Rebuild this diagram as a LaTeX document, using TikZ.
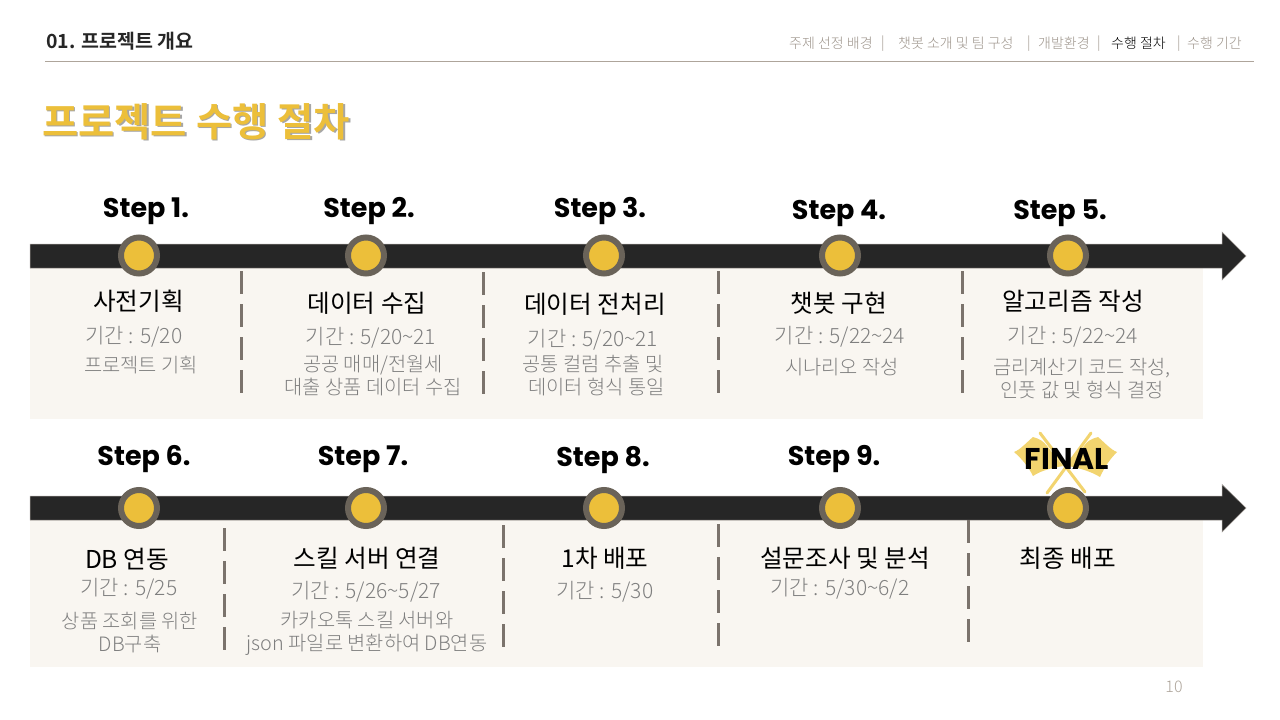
\documentclass[tikz,border=0pt]{standalone}
\usepackage{fontspec}
\setmainfont{Noto Sans CJK KR}
\newfontfamily\kr{Noto Sans CJK KR}
\newfontfamily\krl{Noto Sans CJK KR Light}
\newfontfamily\krh{Noto Sans CJK KR Bold}[AutoFakeBold=1.6]
\newfontfamily\krt{Noto Sans CJK KR Bold}[AutoFakeBold=2.6]
\newfontfamily\stepf{Poppins}
\definecolor{gold}{HTML}{ECBF3A}
\definecolor{bar}{HTML}{262626}
\definecolor{panel}{HTML}{F9F6F1}
\definecolor{ringc}{HTML}{6A6359}
\definecolor{dashc}{HTML}{7B736C}
\definecolor{tan}{HTML}{AEA59B}
\definecolor{body}{HTML}{7F7F7F}
\definecolor{flagc}{HTML}{F2D46F}
\newcommand{\tl}{\char`\~}
\tikzset{
 x=1pt,y=-1pt,
 stepl/.style={font=\stepf\bfseries\fontsize{27}{30}\selectfont,text=black,inner sep=0pt},
 head/.style={font=\kr\fontsize{24.6}{27}\selectfont,text=black,inner sep=0pt},
 per/.style={font=\krl\fontsize{21}{24}\selectfont,text=body,inner sep=0pt},
 desc/.style={font=\krl\fontsize{19.8}{23}\selectfont,text=body,inner sep=0pt,align=center},
 nav/.style={font=\krl\fontsize{14}{14}\selectfont,text=tan!90!black,inner sep=0pt},
 sep/.style={draw=dashc,line width=3pt,dash pattern=on 23.3pt off 9.7pt},
 ring/.style={circle,draw=ringc,fill=gold,line width=6pt,minimum size=36pt,inner sep=0pt},
 arrowbar/.style={fill=bar,draw=dashc!70,line width=.5pt},
 flag/.style={fill=flagc,draw=none},
 pole/.style={draw=flagc,line width=3pt,line cap=round},
}
\begin{document}
\begin{tikzpicture}
\useasboundingbox (0,0) rectangle (1280,720);
\fill[white] (0,0) rectangle (1280,720);
% header
\node[anchor=west,inner sep=0pt,font=\krh\fontsize{19.5}{22}\selectfont,text=bar] (sec) at (46,41) {01. 프로젝트 개요};
\coordinate (ruleL) at (45,61.5); \coordinate (ruleR) at (1254,61.5);
\draw[draw=tan,line width=1pt] (ruleL) -- (ruleR);
\node[nav,anchor=west] (n1) at (789,43.5) {주제 선정 배경};
\node[nav,anchor=west] (n1b) at (881,43.5) {|};
\node[nav,anchor=west] (n2) at (898,43.5) {챗봇 소개 및 팀 구성};
\node[nav,anchor=west] (n2b) at (1027,43.5) {|};
\node[nav,anchor=west] (n3) at (1038,43.5) {개발환경};
\node[nav,anchor=west] (n3b) at (1097,43.5) {|};
\node[nav,anchor=west,text=black] (n4) at (1111,43.5) {수행 절차};
\node[nav,anchor=west] (n5) at (1177,43.5) {|};
\node[nav,anchor=west] (n6) at (1187,43.5) {수행 기간};
% title
\node[anchor=west,inner sep=0pt,font=\krt\fontsize{39.4}{42}\selectfont,text=gray!70] (titles) at (43.5,123) {프로젝트 수행 절차};
\node[anchor=west,inner sep=0pt,font=\krt\fontsize{39.4}{42}\selectfont,text=gold] (title) at (42,121.5) {프로젝트 수행 절차};
% panels
\fill[panel] (30,268) rectangle (1203,419);
\fill[panel] (30,520) rectangle (1203,667);
% arrows
\draw[arrowbar] (30,244) -- (1222,244) -- (1222,232) -- (1246,256) -- (1222,280) -- (1222,268) -- (30,268) -- cycle;
\draw[arrowbar] (30,496) -- (1222,496) -- (1222,484.5) -- (1246,508) -- (1222,532) -- (1222,520) -- (30,520) -- cycle;
% separators
\foreach \x/\a/\b in {241/271/394,483.5/272/395,718/271/394,962/271/394,224/528/651,503/525/648,718/524/647,968/520/643}
  \draw[sep] (\x,\a) -- (\x,\b);
% markers
\foreach \n/\x in {a/139,b/366,c/604,d/840,e/1068} \node[ring] (r1\n) at (\x,255.5) {};
% flags
\fill[flag] (1014,452) .. controls (1020,450) and (1027,442) .. (1033,437) .. controls (1040,439) and (1043,441) .. (1047,446) -- (1063,466) .. controls (1052,468) and (1042,470) .. (1033,476) .. controls (1028,466) and (1021,458) .. (1014,452) -- cycle;
\fill[flag] (1117,452) .. controls (1111,450) and (1104,442) .. (1098,437) .. controls (1091,439) and (1087,441) .. (1084,446) -- (1068,466) .. controls (1079,468) and (1090,471) .. (1100,477) .. controls (1105,466) and (1111,458) .. (1117,452) -- cycle;
\draw[pole] (1040,433) -- (1085,492);
\draw[pole] (1091,433) -- (1047,493);
\foreach \n/\x in {a/139,b/366,c/604,d/840,e/1068} \node[ring] (r2\n) at (\x,508) {};
% steps
\node[stepl] (s1) at (146,211) {Step 1.};
\node[stepl] (s2) at (369,211) {Step 2.};
\node[stepl] (s3) at (600,211) {Step 3.};
\node[stepl] (s4) at (839,213) {Step 4.};
\node[stepl] (s5) at (1060,213) {Step 5.};
\node[stepl] (s6) at (144,459) {Step 6.};
\node[stepl] (s7) at (363,459) {Step 7.};
\node[stepl] (s8) at (603,460) {Step 8.};
\node[stepl] (s9) at (834,459) {Step 9.};
\node[stepl,font=\stepf\bfseries\fontsize{30}{32}\selectfont] (s10) at (1067,459) {FINAL};
% column 1
\node[head] (h1) at (138.5,301) {사전기획};
\node[per] (p1) at (134,337) {기간 : 5/20};
\node[desc] (d1) at (141,365) {프로젝트 기획};
\node[head] (h2) at (367,303) {데이터 수집};
\node[per] (p2) at (371,338) {기간 : 5/20\tl 21};
\node[desc] (d2) at (373,376) {공공 매매/전월세\\대출 상품 데이터 수집};
\node[head] (h3) at (595,304) {데이터 전처리};
\node[per] (p3) at (593,340) {기간 : 5/20\tl 21};
\node[desc] (d3) at (593,376) {공통 컬럼 추출 및\\\hspace*{7pt}데이터 형식 통일};
\node[head] (h4) at (839,303) {챗봇 구현};
\node[per] (p4) at (840,337) {기간 : 5/22\tl 24};
\node[desc] (d4) at (842,367) {시나리오 작성};
\node[head] (h5) at (1073,301) {알고리즘 작성};
\node[per] (p5) at (1073,337) {기간 : 5/22\tl 24};
\node[desc] (d5) at (1082,379) {금리계산기 코드 작성,\\인풋 값 및 형식 결정};
% row 2
\node[head] (h6) at (127,559) {DB 연동};
\node[per] (p6) at (129,589) {기간 : 5/25};
\node[desc] (d6) at (130,633) {상품 조회를 위한\\DB구축};
\node[head] (h7) at (367,558) {스킬 서버 연결};
\node[per] (p7) at (366,592) {기간 : 5/26\tl 5/27};
\node[desc] (d7) at (367,633) {카카오톡 스킬 서버와\\json 파일로 변환하여 DB연동};
\node[head] (h8) at (605,558) {1차 배포};
\node[per] (p8) at (605,592) {기간 : 5/30};
\node[head] (h9) at (845,558) {설문조사 및 분석};
\node[per] (p9) at (840,589) {기간 : 5/30\tl 6/2};
\node[head] (h10) at (1068,558) {최종 배포};
\node[anchor=center,inner sep=0pt,font=\krl\fontsize{16}{16}\selectfont,text=tan] (pg) at (1174,687) {10};
\end{tikzpicture}
\end{document}
